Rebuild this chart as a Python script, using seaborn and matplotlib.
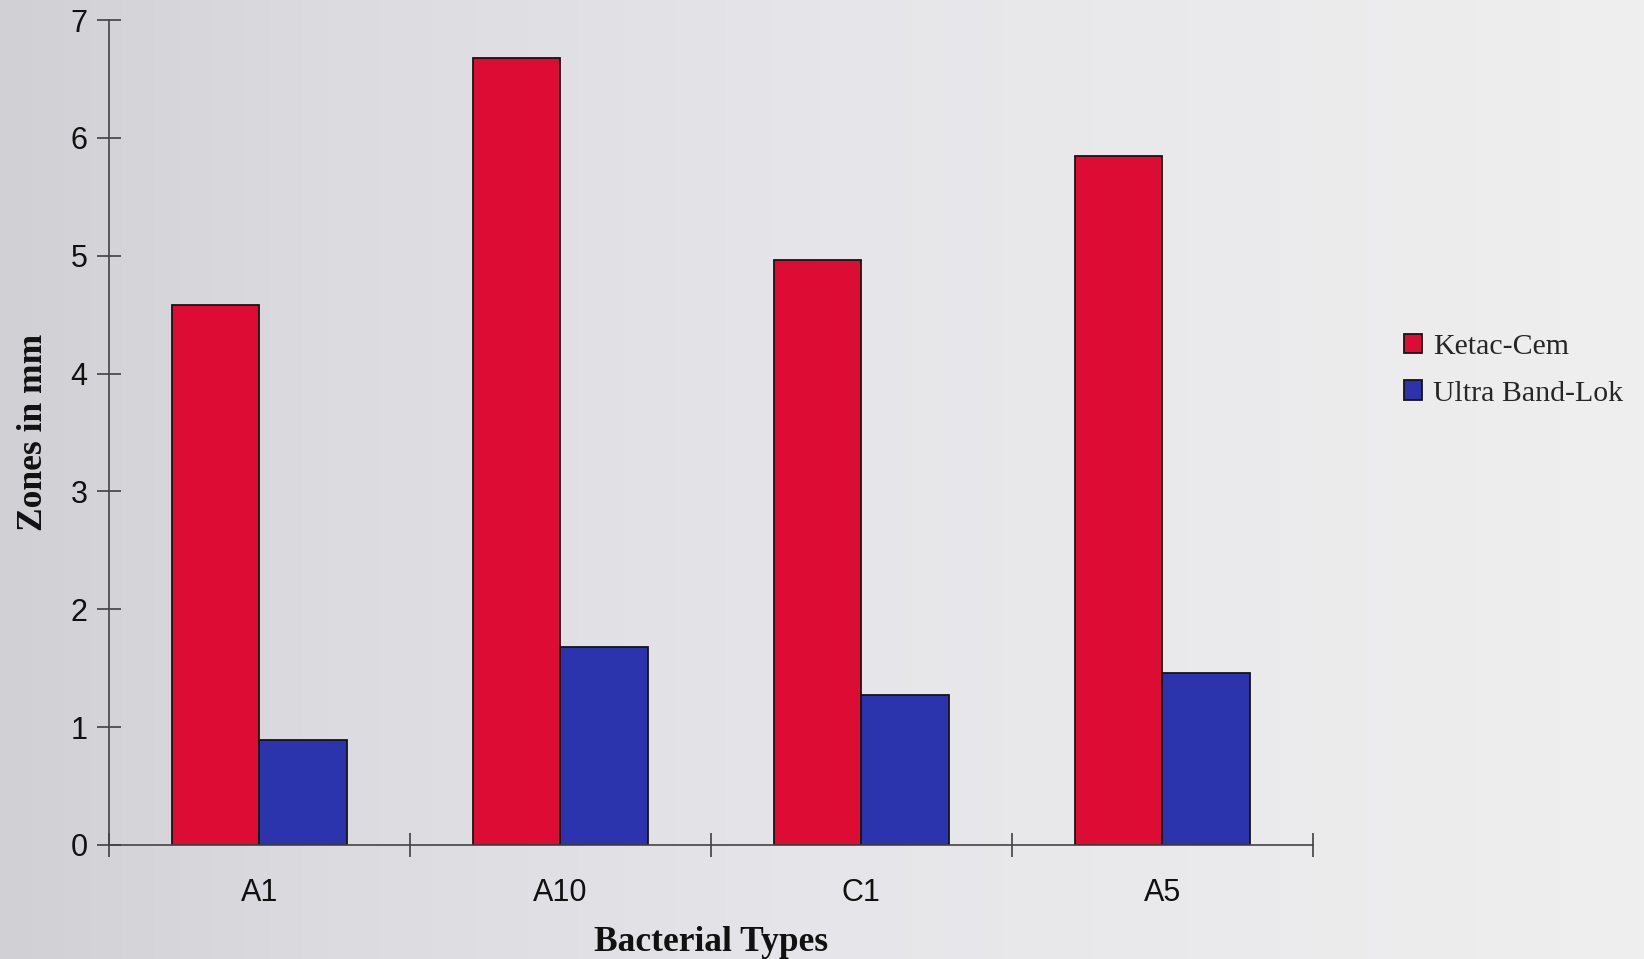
import matplotlib
matplotlib.use("Agg")
import matplotlib.pyplot as plt
from matplotlib.colors import LinearSegmentedColormap
import numpy as np
import seaborn as sns
import pandas as pd

categories = ["A1", "A10", "C1", "A5"]
series_names = ["Ketac-Cem", "Ultra Band-Lok"]
ketac_cem = [4.58, 6.68, 4.96, 5.85]
ultra_band_lok = [0.89, 1.68, 1.27, 1.46]
y_ticks = [0, 1, 2, 3, 4, 5, 6, 7]

df = pd.DataFrame({
    "Bacterial Types": categories * 2,
    "Zones": ketac_cem + ultra_band_lok,
    "Series": [series_names[0]] * len(categories) + [series_names[1]] * len(categories),
})

sns.set_style("white")
plt.rcParams['font.family'] = ['Liberation Sans', 'DejaVu Sans']

red = "#dd0c35"
blue = "#2b33ad"

fig = plt.figure(figsize=(16.44, 9.59), dpi=100, facecolor="#e3e2e6")

# paper-like background shading (scan), left darker to right lighter
bgax = fig.add_axes([0, 0, 1, 1], zorder=-10)
bg_cmap = LinearSegmentedColormap.from_list(
    "paper", [(0.0, "#d1d0d5"), (0.2, "#dcdbe0"), (0.5, "#e6e5e9"), (1.0, "#efefef")])
bgax.imshow(np.linspace(0, 1, 256)[None, :], aspect="auto", cmap=bg_cmap,
            extent=[0, 1, 0, 1])
bgax.set_axis_off()

ax = fig.add_axes([0.0663, 0.119, 0.7323, 0.860])
ax.patch.set_alpha(0)

sns.barplot(data=df, x="Bacterial Types", y="Zones", hue="Series",
            order=categories, hue_order=series_names, palette=[red, blue],
            width=0.58, edgecolor="#151515", linewidth=1.3, saturation=1,
            ax=ax, legend=True)

ax.set_xlim(-0.5, len(categories) - 0.5)
ax.set_ylim(0, 7)
ax.set_yticks(y_ticks)
ax.set_yticklabels([str(t) for t in y_ticks], fontsize=22, color="#111")

bounds = [i - 0.5 for i in range(len(categories) + 1)]
ax.set_xticks(bounds)
ax.set_xticklabels([""] * len(bounds))
ax.set_xticks(range(len(categories)), minor=True)
ax.set_xticklabels(categories, minor=True, fontsize=22, color="#111")
ax.tick_params(axis="x", which="major", direction="inout", length=17, width=1.1,
               color="#333", bottom=True)
ax.tick_params(axis="x", which="minor", length=0, pad=24, bottom=True)
ax.tick_params(axis="y", which="major", direction="inout", length=17, width=1.1,
               color="#333", pad=7, left=True)

for s in ["top", "right"]:
    ax.spines[s].set_visible(False)
for s in ["left", "bottom"]:
    ax.spines[s].set_color("#444")
    ax.spines[s].set_linewidth(1.2)

ax.set_xlabel("Bacterial Types", fontsize=25.5, fontweight="bold",
              family=["Liberation Serif", "DejaVu Serif"], labelpad=13, color="#111")
ax.set_ylabel("Zones in mm", fontsize=25.5, fontweight="bold",
              family=["Liberation Serif", "DejaVu Serif"], labelpad=15, color="#111")

handles, labels = ax.get_legend_handles_labels()
ax.legend(handles, labels, loc="center left", bbox_to_anchor=(0.8375, 0.614),
          bbox_transform=fig.transFigure, frameon=False,
          prop={"family": ["Liberation Serif", "DejaVu Serif"], "size": 21.5},
          handlelength=0.62, handleheight=0.62, handletextpad=0.35, labelspacing=0.68)

fig.savefig("out.png", dpi=100)
